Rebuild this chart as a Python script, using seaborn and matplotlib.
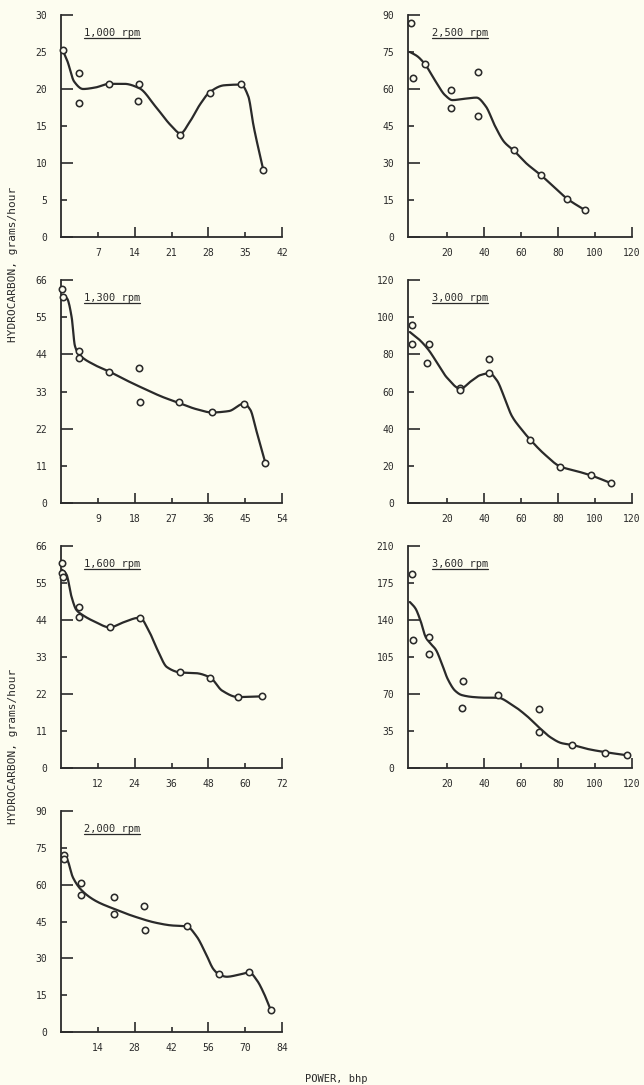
import numpy as np
import pandas as pd
import matplotlib
matplotlib.use("Agg")
import matplotlib.pyplot as plt
import seaborn as sns
from matplotlib.ticker import FixedLocator, FuncFormatter

# ---------------- data ----------------
# 1,000 rpm
p1000_x = [0.3, 3.4, 3.4, 9.2, 14.9, 14.7, 22.7, 28.3, 34.2, 38.4]
p1000_y = [25.3, 22.1, 18.1, 20.7, 20.7, 18.4, 13.8, 19.5, 20.7, 9.0]
c1000_x = [0.3, 1.2, 2.5, 4.2, 6.5, 9.2, 12.0, 14.9, 18.0, 21.0, 22.7, 24.5, 26.5, 28.3, 31.0, 34.2, 35.6, 36.6, 38.4]
c1000_y = [25.3, 23.8, 21.0, 20.0, 20.2, 20.7, 20.7, 20.1, 17.6, 15.0, 14.0, 15.6, 18.0, 19.6, 20.5, 20.6, 19.0, 15.0, 9.2]

# 1,300 rpm
p1300_x = [0.3, 0.5, 4.3, 4.3, 11.8, 19.1, 19.4, 28.9, 36.9, 44.7, 49.9]
p1300_y = [63.2, 60.9, 45.1, 42.8, 38.9, 40.0, 29.9, 29.8, 26.8, 29.4, 11.8]
c1300_x = [0.2, 1.5, 2.6, 3.4, 4.3, 8.0, 11.8, 16.0, 20.0, 25.0, 28.9, 33.0, 36.9, 41.0, 44.7, 46.3, 47.6, 49.9]
c1300_y = [61.5, 60.5, 55.0, 46.5, 44.2, 41.0, 38.9, 36.3, 34.0, 31.3, 29.6, 27.8, 26.8, 27.2, 29.4, 27.5, 22.0, 12.0]

# 1,600 rpm
p1600_x = [0.4, 0.4, 0.8, 6.0, 6.0, 15.9, 25.7, 38.9, 48.6, 57.6, 65.5]
p1600_y = [60.9, 57.9, 56.7, 48.0, 44.9, 41.8, 44.7, 28.4, 26.9, 21.2, 21.3]
c1600_x = [0.2, 1.8, 3.4, 5.0, 7.0, 11.0, 15.9, 20.0, 25.7, 28.5, 31.5, 34.5, 38.9, 44.0, 48.6, 52.5, 57.6, 65.5]
c1600_y = [59.0, 57.5, 51.0, 47.0, 45.5, 43.5, 41.8, 43.2, 44.7, 41.0, 35.0, 30.0, 28.4, 28.2, 26.9, 23.0, 21.1, 21.3]

# 2,000 rpm
p2000_x = [1.0, 1.0, 7.6, 7.6, 20.0, 20.0, 31.6, 31.9, 47.8, 60.0, 71.6, 79.7]
p2000_y = [72.1, 70.6, 60.8, 55.9, 54.9, 48.2, 51.2, 41.4, 43.0, 23.8, 24.3, 8.8]
c2000_x = [0.2, 2.2, 4.5, 7.6, 13.0, 20.0, 28.0, 36.0, 42.0, 47.8, 51.5, 55.0, 58.0, 60.0, 63.0, 67.5, 71.6, 74.5, 77.0, 79.7]
c2000_y = [71.0, 70.3, 63.0, 58.0, 53.5, 50.2, 47.0, 44.5, 43.4, 43.0, 39.0, 32.0, 25.5, 23.5, 22.5, 23.3, 24.2, 21.0, 16.0, 9.0]

# 2,500 rpm
p2500_x = [0.5, 1.6, 8.0, 22.4, 22.4, 37.0, 37.0, 56.2, 70.9, 85.0, 94.6]
p2500_y = [86.6, 64.6, 70.2, 59.4, 52.4, 67.0, 49.1, 35.1, 25.0, 15.3, 10.9]
c2500_x = [0.0, 4.0, 8.0, 14.0, 19.0, 23.0, 29.0, 36.0, 41.0, 46.0, 51.0, 56.2, 63.0, 70.9, 78.0, 85.0, 94.6]
c2500_y = [75.0, 73.3, 70.2, 63.0, 57.5, 55.5, 56.0, 56.5, 53.0, 45.0, 38.5, 35.0, 29.8, 25.0, 20.2, 15.5, 10.9]

# 3,000 rpm
p3000_x = [1.4, 1.4, 10.4, 9.3, 27.3, 27.3, 43.0, 43.0, 65.1, 81.3, 98.0, 108.6]
p3000_y = [96.0, 85.8, 85.6, 75.2, 62.0, 61.0, 77.5, 69.8, 34.0, 19.6, 14.8, 10.7]
c3000_x = [0.0, 5.0, 10.0, 15.0, 20.0, 27.3, 33.0, 38.0, 43.0, 47.0, 51.0, 55.0, 60.0, 65.1, 73.0, 81.3, 90.0, 98.0, 108.6]
c3000_y = [92.0, 88.0, 82.5, 75.0, 67.5, 61.5, 65.5, 68.8, 69.8, 66.0, 57.0, 47.0, 40.0, 34.0, 26.0, 19.6, 17.2, 14.8, 10.7]

# 3,600 rpm
p3600_x = [1.2, 1.7, 10.6, 10.6, 28.7, 27.9, 47.4, 69.5, 69.5, 87.7, 105.5, 117.5]
p3600_y = [183.3, 121.5, 124.3, 108.3, 82.4, 56.8, 69.0, 55.6, 34.0, 21.8, 14.3, 12.1]
c3600_x = [0.0, 3.0, 6.0, 8.5, 11.0, 14.0, 17.0, 20.5, 24.5, 28.0, 35.0, 41.0, 47.4, 55.0, 63.0, 70.0, 76.0, 82.0, 87.7, 96.0, 105.5, 117.5]
c3600_y = [157.0, 151.0, 138.0, 124.0, 118.0, 112.0, 100.0, 84.0, 73.0, 69.0, 67.0, 66.5, 66.5, 60.0, 49.5, 38.0, 29.0, 23.5, 21.8, 18.0, 15.0, 12.0]

titles = ["1,000 rpm", "1,300 rpm", "1,600 rpm", "2,000 rpm", "2,500 rpm", "3,000 rpm", "3,600 rpm"]
x_ticks = [[7, 14, 21, 28, 35, 42], [9, 18, 27, 36, 45, 54], [12, 24, 36, 48, 60, 72], [14, 28, 42, 56, 70, 84],
           [20, 40, 60, 80, 100, 120], [20, 40, 60, 80, 100, 120], [20, 40, 60, 80, 100, 120]]
y_ticks = [[0, 5, 10, 15, 20, 25, 30], [0, 11, 22, 33, 44, 55, 66], [0, 11, 22, 33, 44, 55, 66], [0, 15, 30, 45, 60, 75, 90],
           [0, 15, 30, 45, 60, 75, 90], [0, 20, 40, 60, 80, 100, 120], [0, 35, 70, 105, 140, 175, 210]]
y_label = "HYDROCARBON, grams/hour"
x_label = "POWER, bhp"

points = [(p1000_x, p1000_y), (p1300_x, p1300_y), (p1600_x, p1600_y), (p2000_x, p2000_y),
          (p2500_x, p2500_y), (p3000_x, p3000_y), (p3600_x, p3600_y)]
curves = [(c1000_x, c1000_y), (c1300_x, c1300_y), (c1600_x, c1600_y), (c2000_x, c2000_y),
          (c2500_x, c2500_y), (c3000_x, c3000_y), (c3600_x, c3600_y)]


def pchip(x, y, n=400):
    x = np.asarray(x, float)
    y = np.asarray(y, float)
    h = np.diff(x)
    d = np.diff(y) / h
    m = np.zeros_like(x)
    for k in range(1, len(x) - 1):
        if d[k - 1] * d[k] <= 0:
            m[k] = 0.0
        else:
            w1 = 2 * h[k] + h[k - 1]
            w2 = h[k] + 2 * h[k - 1]
            m[k] = (w1 + w2) / (w1 / d[k - 1] + w2 / d[k])
    m[0] = d[0]
    m[-1] = d[-1]
    xs = np.linspace(x[0], x[-1], n)
    idx = np.clip(np.searchsorted(x, xs) - 1, 0, len(x) - 2)
    t = (xs - x[idx]) / h[idx]
    h00 = 2 * t**3 - 3 * t**2 + 1
    h10 = t**3 - 2 * t**2 + t
    h01 = -2 * t**3 + 3 * t**2
    h11 = t**3 - t**2
    ys = h00 * y[idx] + h10 * h[idx] * m[idx] + h01 * y[idx + 1] + h11 * h[idx] * m[idx + 1]
    return xs, ys


# ---------------- style ----------------
BG = "#fdfdf0"
INK = "#2a2a2a"
sns.set_theme(style="white")
plt.rcParams["font.family"] = ["DejaVu Sans Mono", "DejaVu Sans"]
plt.rcParams["text.color"] = INK
plt.rcParams["axes.edgecolor"] = INK
plt.rcParams["xtick.color"] = INK
plt.rcParams["ytick.color"] = INK

W, H = 644, 1085
fig = plt.figure(figsize=(W / 100, H / 100), dpi=100, facecolor=BG)

# pixel boxes (left, right, top, bottom)
rows = [(15, 237), (280, 503), (546, 768), (811, 1032)]
left_col = (61, 282)
right_col = (408, 632)
boxes = [(left_col, rows[0]), (left_col, rows[1]), (left_col, rows[2]), (left_col, rows[3]),
         (right_col, rows[0]), (right_col, rows[1]), (right_col, rows[2])]

axes = []
for i, ((l, r), (t, b)) in enumerate(boxes):
    ax = fig.add_axes([l / W, 1 - b / H, (r - l) / W, (b - t) / H])
    ax.set_facecolor(BG)
    axes.append(ax)
    xt, yt = x_ticks[i], y_ticks[i]
    xmin = 0 if i < 4 else -1
    ax.set_xlim(xmin, xt[-1])
    ax.set_ylim(0, yt[-1])

    cx, cy = pchip(*curves[i])
    df_c = pd.DataFrame({"x": cx, "y": cy})
    sns.lineplot(data=df_c, x="x", y="y", ax=ax, color=INK, linewidth=1.6, sort=False, zorder=2)
    px, py = points[i]
    df_p = pd.DataFrame({"x": px, "y": py})
    sns.scatterplot(data=df_p, x="x", y="y", ax=ax, marker="o", s=21, facecolor=BG,
                    edgecolor=INK, linewidth=1.15, zorder=3, clip_on=False)

    for s in ["top", "right"]:
        ax.spines[s].set_visible(False)
    for s in ["left", "bottom"]:
        ax.spines[s].set_linewidth(1.3)
        ax.spines[s].set_color(INK)

    # long (major) and short (minor) ticks alternate, all labelled
    x_major = [v for k, v in enumerate(xt) if k % 2 == 1]
    x_minor = [v for k, v in enumerate(xt) if k % 2 == 0]
    y_major = [v for k, v in enumerate(yt) if k % 2 == 0]
    y_minor = [v for k, v in enumerate(yt) if k % 2 == 1]
    ax.xaxis.set_major_locator(FixedLocator(x_major))
    ax.xaxis.set_minor_locator(FixedLocator(x_minor))
    ax.yaxis.set_major_locator(FixedLocator(y_major))
    ax.yaxis.set_minor_locator(FixedLocator(y_minor))
    fmt = FuncFormatter(lambda v, p: f"{v:g}")
    ax.xaxis.set_major_formatter(fmt)
    ax.xaxis.set_minor_formatter(fmt)
    ax.yaxis.set_major_formatter(fmt)
    ax.yaxis.set_minor_formatter(fmt)
    ax.tick_params(axis="both", which="both", bottom=True, left=True, top=False, right=False)
    ax.tick_params(axis="x", which="major", direction="in", length=7, width=1.2, pad=8, labelsize=7)
    ax.tick_params(axis="x", which="minor", direction="in", length=3.5, width=1.2, pad=8, labelsize=7)
    ax.tick_params(axis="y", which="major", direction="in", length=8.5, width=1.2, pad=10, labelsize=7)
    ax.tick_params(axis="y", which="minor", direction="in", length=4, width=1.2, pad=10, labelsize=7)
    ax.set_xlabel("")
    ax.set_ylabel("")

    ax.text(0.105, 0.918, titles[i], transform=ax.transAxes, fontsize=7.5,
            ha="left", va="center", color=INK)

fig.text(13 / W, 1 - 264 / H, y_label, rotation=90, ha="center", va="center", fontsize=8)
fig.text(13 / W, 1 - 746 / H, y_label, rotation=90, ha="center", va="center", fontsize=8)
fig.text(336 / W, 1 - 1079 / H, x_label, ha="center", va="center", fontsize=7.5)

# underline the rpm titles
fig.canvas.draw()
renderer = fig.canvas.get_renderer()
for ax in axes:
    for t in ax.texts:
        bb = t.get_window_extent(renderer).transformed(ax.transAxes.inverted())
        ax.plot([bb.x0, bb.x1], [bb.y0 + 0.002, bb.y0 + 0.002], transform=ax.transAxes,
                color=INK, linewidth=0.9, clip_on=False)

fig.savefig("out.png", dpi=100, facecolor=BG)
